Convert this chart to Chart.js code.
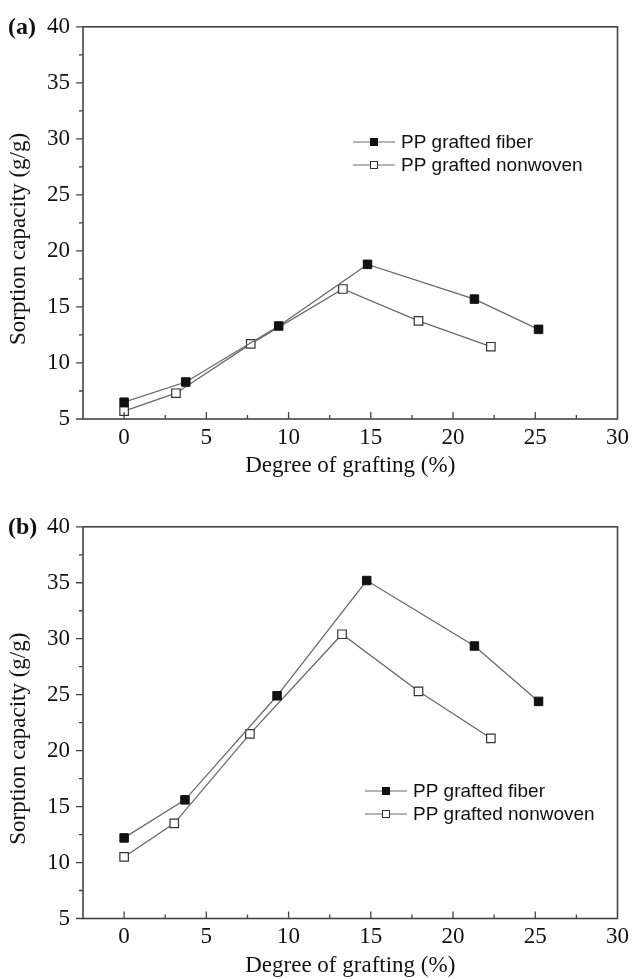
<!DOCTYPE html>
<html>
<head>
<meta charset="utf-8">
<script src="https://cdn.jsdelivr.net/npm/chart.js@4/dist/chart.umd.min.js"></script>
<style>
  html, body { margin: 0; padding: 0; background: #fff; }
  body { width: 634px; height: 979px; position: relative; overflow: hidden; }
  canvas { position: absolute; left: 0; }
  #chartA { top: 0; }
  #chartB { top: 500px; }
</style>
</head>
<body>
<canvas id="chartA" width="634" height="479"></canvas>
<canvas id="chartB" width="634" height="479"></canvas>
<script>
// panel (a)
const fiberXA = [0, 3.75, 9.4, 14.8, 21.3, 25.2];
const fiberYA = [6.5, 8.3, 13.3, 18.8, 15.7, 13.0];
const nonwovenXA = [0, 3.15, 7.7, 13.3, 17.9, 22.3];
const nonwovenYA = [5.7, 7.3, 11.7, 16.6, 13.75, 11.45];

// panel (b)
const fiberXB = [0, 3.7, 9.3, 14.75, 21.3, 25.2];
const fiberYB = [12.2, 15.6, 24.9, 35.2, 29.35, 24.4];
const nonwovenXB = [0, 3.05, 7.65, 13.25, 17.9, 22.3];
const nonwovenYB = [10.5, 13.5, 21.5, 30.4, 25.3, 21.1];

const seriesLabels = ['PP grafted fiber', 'PP grafted nonwoven'];
const xTitle = 'Degree of grafting (%)';
const yTitle = 'Sorption capacity (g/g)';
const xMin = -2.5, xMax = 30, xStep = 5;
const yMin = 5, yMax = 40, yStep = 5;

const SERIF = '"Liberation Serif", "Times New Roman", serif';
const SANS = '"Liberation Sans", Arial, sans-serif';
const INK = '#111';
const AXIS = '#444';
const LINE = '#6a6a6a';

function toPoints(xs, ys) {
  return xs.map((x, i) => ({ x, y: ys[i] }));
}

function drawMarker(ctx, cx, cy, side, filled) {
  ctx.fillStyle = filled ? '#111' : '#fff';
  ctx.strokeStyle = filled ? '#111' : '#333';
  ctx.lineWidth = 1;
  ctx.fillRect(cx - side / 2, cy - side / 2, side, side);
  ctx.strokeRect(cx - side / 2, cy - side / 2, side, side);
}

// frame, minor/major ticks, panel tag, y title and legend
const framePlugin = {
  id: 'frame',
  afterDraw(chart, args, opts) {
    const { ctx, chartArea: a, scales: { x, y } } = chart;
    ctx.save();
    ctx.strokeStyle = AXIS;
    ctx.lineWidth = 1.6;
    ctx.strokeRect(a.left, a.top, a.width, a.height);

    ctx.lineWidth = 1.3;
    ctx.beginPath();
    for (let v = yMin; v <= yMax; v += yStep / 2) {
      const py = y.getPixelForValue(v);
      const len = v % yStep === 0 ? 7 : 4;
      ctx.moveTo(a.left - len, py);
      ctx.lineTo(a.left, py);
    }
    for (let v = 0; v < xMax; v += xStep / 2) {
      const px = x.getPixelForValue(v);
      const len = v % xStep === 0 ? 7 : 4;
      ctx.moveTo(px, a.bottom);
      ctx.lineTo(px, a.bottom - len);
    }
    ctx.stroke();

    // panel tag
    ctx.fillStyle = INK;
    ctx.font = 'bold 24px ' + SERIF;
    ctx.textBaseline = 'middle';
    ctx.textAlign = 'left';
    ctx.fillText(opts.tag, 8, y.getPixelForValue(yMax) + 1);

    // y title
    ctx.font = '23px ' + SERIF;
    ctx.translate(19, (a.top + a.bottom) / 2 + 16);
    ctx.rotate(-Math.PI / 2);
    ctx.textAlign = 'center';
    ctx.fillText(yTitle, 0, 0);
    ctx.restore();

    // legend
    ctx.save();
    ctx.font = '19px ' + SANS;
    ctx.textBaseline = 'middle';
    ctx.textAlign = 'left';
    chart.data.datasets.forEach((ds, i) => {
      const ly = opts.legendY + i * 23;
      ctx.strokeStyle = LINE;
      ctx.lineWidth = 1.2;
      ctx.beginPath();
      ctx.moveTo(opts.legendX, ly);
      ctx.lineTo(opts.legendX + 42, ly);
      ctx.stroke();
      drawMarker(ctx, opts.legendX + 21, ly, 7, i === 0);
      ctx.fillStyle = INK;
      ctx.fillText(ds.label, opts.legendX + 48, ly + 1);
    });
    ctx.restore();
  }
};

function makeChart(id, tag, fiber, nonwoven, padTop, legendX, legendY) {
  return new Chart(document.getElementById(id), {
    type: 'line',
    data: {
      datasets: [
        {
          label: seriesLabels[0],
          data: fiber,
          borderColor: LINE,
          borderWidth: 1.3,
          pointStyle: 'rect',
          pointRadius: 6,
          pointBackgroundColor: '#111',
          pointBorderColor: '#111',
          pointBorderWidth: 1,
        },
        {
          label: seriesLabels[1],
          data: nonwoven,
          borderColor: LINE,
          borderWidth: 1.3,
          pointStyle: 'rect',
          pointRadius: 6,
          pointBackgroundColor: '#fff',
          pointBorderColor: '#333',
          pointBorderWidth: 1.2,
        },
      ],
    },
    options: {
      responsive: false,
      animation: false,
      layout: { padding: { top: padTop, right: 13, left: 0, bottom: 0 } },
      plugins: {
        legend: { display: false },
        tooltip: { enabled: false },
        frame: { tag, legendX, legendY },
      },
      scales: {
        x: {
          type: 'linear',
          min: xMin,
          max: xMax,
          grid: { display: false, drawTicks: false },
          border: { display: false },
          ticks: {
            stepSize: xStep,
            includeBounds: false,
            padding: 5,
            color: INK,
            font: { family: SERIF, size: 23 },
          },
          title: {
            display: true,
            text: xTitle,
            color: INK,
            font: { family: SERIF, size: 23, lineHeight: 1.15 },
            padding: { top: 0, bottom: 0 },
          },
          afterFit(scale) { scale.height = 479 - 419 - (padTop > 21 ? -0.5 : 0); },
        },
        y: {
          min: yMin,
          max: yMax,
          grid: { display: false, drawTicks: false },
          border: { display: false },
          ticks: {
            stepSize: yStep,
            padding: 13,
            color: INK,
            font: { family: SERIF, size: 23 },
          },
          afterFit(scale) { scale.width = 83; },
        },
      },
    },
    plugins: [framePlugin],
  });
}

makeChart('chartA', '(a)', toPoints(fiberXA, fiberYA), toPoints(nonwovenXA, nonwovenYA), 21, 353, 142);
makeChart('chartB', '(b)', toPoints(fiberXB, fiberYB), toPoints(nonwovenXB, nonwovenYB), 22, 365, 291);
</script>
</body>
</html>
